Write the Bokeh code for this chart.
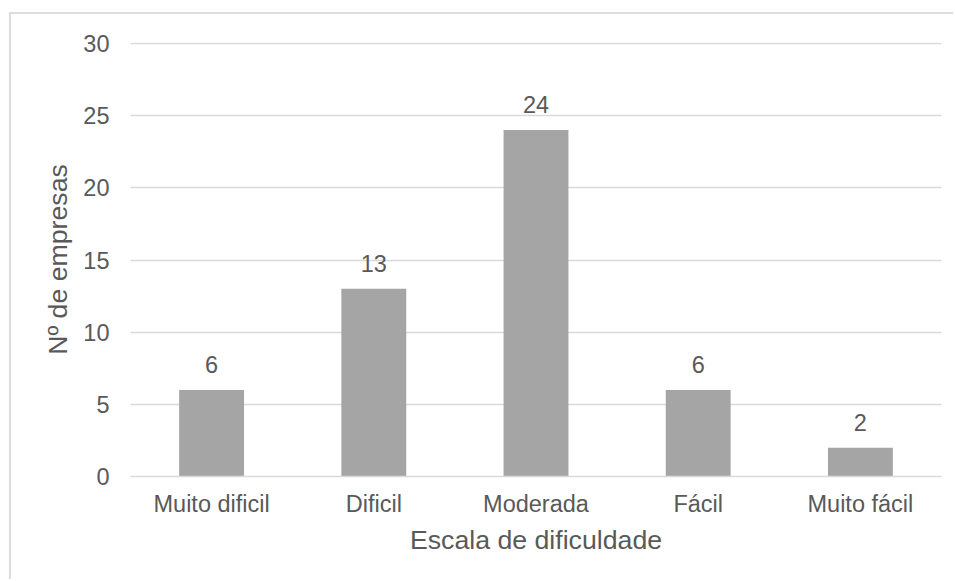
from bokeh.plotting import figure
from bokeh.models import ColumnDataSource, LabelSet, FixedTicker, Range1d
from bokeh.core.properties import value
from bokeh.embed import file_html
from bokeh.resources import INLINE

# Survey results: number of companies per difficulty level
categories = ["Muito dificil", "Dificil", "Moderada", "Fácil", "Muito fácil"]
companies = [6, 13, 24, 6, 2]
y_ticks = [0, 5, 10, 15, 20, 25, 30]

TEXT = "#595959"
GRID = "#D9D9D9"
BAR = "#A5A5A5"
FONT = "Liberation Sans"

source = ColumnDataSource(data=dict(
    cat=categories,
    val=companies,
    lbl=[str(v) for v in companies],
))

p = figure(
    width=944, height=567,
    x_range=categories,
    # a hair of headroom so the top gridline at 30 is not clipped
    y_range=Range1d(0, 30.07),
    output_backend="svg",
    toolbar_location=None,
    min_border_left=119, min_border_right=14,
    min_border_top=28, min_border_bottom=105,
)
# light chart-area border on the top and left edges
p.styles = {
    "margin-left": "9px",
    "margin-top": "12px",
    "border-left": "2px solid #DCDCDC",
    "border-top": "2px solid #DCDCDC",
}
p.x_range.range_padding = 0
p.outline_line_color = None
p.background_fill_color = "white"
p.border_fill_color = "white"

p.vbar(x="cat", top="val", width=0.4, source=source,
       fill_color=BAR, line_color=None)

labels = LabelSet(x="cat", y="val", text="lbl", source=source,
                  text_align="center", text_baseline="bottom", y_offset=17,
                  text_font=value(FONT), text_font_size="23.5px",
                  text_color=TEXT)
p.add_layout(labels)

# grid
p.xgrid.grid_line_color = None
p.ygrid.grid_line_color = GRID
p.ygrid.grid_line_width = 1.3
p.yaxis.ticker = FixedTicker(ticks=y_ticks)

# axes
for ax in (p.xaxis[0], p.yaxis[0]):
    ax.major_tick_line_color = None
    ax.minor_tick_line_color = None
    ax.major_label_text_font = FONT
    ax.major_label_text_font_size = "23.5px"
    ax.major_label_text_color = TEXT
    ax.axis_label_text_font = FONT
    ax.axis_label_text_font_size = "26.7px"
    ax.axis_label_text_color = TEXT
    ax.axis_label_text_font_style = "normal"

p.yaxis.axis_line_color = None
p.xaxis.axis_line_color = GRID
p.xaxis.axis_line_width = 1.3
p.yaxis.major_label_standoff = 15
p.xaxis.major_label_standoff = 8
p.yaxis.axis_label = "Nº de empresas"
p.xaxis.axis_label = "Escala de dificuldade"
p.yaxis.axis_label_standoff = 7
p.xaxis.axis_label_standoff = 5

open("out.html", "w").write(file_html(p, INLINE))
